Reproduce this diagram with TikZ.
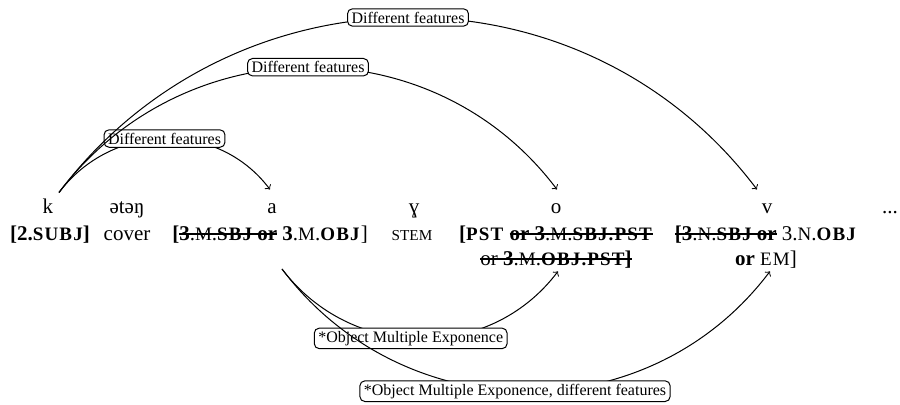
\documentclass[tikz,border=0pt]{standalone}
\usepackage{fontspec}
\setmainfont{Liberation Serif}
\usetikzlibrary{arrows}
\newcommand{\smc}[1]{{\fontsize{9.5}{10}\selectfont\addfontfeature{LetterSpace=6}#1}}
\newcommand{\smcs}[1]{{\fontsize{7.6}{9}\selectfont #1}}
\newcommand{\strk}[1]{\setbox0\hbox{#1}\rlap{\rule[0.3em]{\wd0}{0.75pt}}\box0\relax}

\begin{document}
\begin{tikzpicture}[>=to, x=0.5pt, y=0.5pt, line width=0.5pt,
    word/.style={anchor=base, inner sep=1pt, text height=8pt, text depth=2pt, font=\fontsize{10.5}{12.5}\selectfont},
    gloss/.style={anchor=base, inner sep=0pt, align=center, font=\fontsize{10.5}{12.5}\selectfont},
    deplabel/.style={draw, fill=white, rounded corners=2.5pt, inner xsep=2pt, inner ysep=1.5pt, font=\fontsize{8}{9.6}\selectfont}]

      % white space round the sentence
      \useasboundingbox (0, 0) rectangle (900, 405);

      % words
      \node [word, name=wk] at (48, 191) {k};
      \node [word, name=weteng] at (127, 191) {ətəŋ};
      \node [word, name=wa] at (272, 191) {a};
      \node [word, name=wgh] at (414, 191) {ɣ};
      \node [word, name=wo] at (556, 191) {o};
      \node [word, name=wv] at (767, 191) {v};
      \node [word, name=wdots] at (890, 191) {...};

      % glosses (two-line ones sit on their last line)
      \node [gloss, name=gk] at (50, 164) {\textbf{[2.\smc{SUBJ}]}};
      \node [gloss, name=geteng] at (127, 164) {cover};
      \node [gloss, name=ga] at (270, 164) {\textbf{[}\strk{\textbf{3}.\smc{M}.\textbf{\smc{SBJ} or}} \textbf{3}.\smc{M}.\textbf{\smc{OBJ}}]};
      \node [gloss, name=ggh] at (412, 164) {\smcs{STEM}};
      \node [gloss, name=go] at (556, 139) {\textbf{[\smc{PST}} \strk{\textbf{or 3}.\smc{M}.\textbf{\smc{SBJ.PST}}}\\
        \strk{or \textbf{3}.\smc{M}.\textbf{\smc{OBJ.PST}]}}};
      \node [gloss, name=gv] at (766, 139) {\strk{\textbf{[3}.\smc{N}.\textbf{\smc{SBJ} or}} 3.\smc{N}.\textbf{\smc{OBJ}}\\
        \textbf{or} \smc{EM}]};

      % edges above
      \draw [->] ([xshift=5.5pt, yshift=1.5pt]wk.north) to [out=53, in=127, looseness=1.06] node [deplabel] {Different features} ([xshift=-1pt, yshift=3pt]wa.north);
      \draw [->] ([xshift=5.5pt, yshift=1.5pt]wk.north) to [out=53, in=127, looseness=1.06] node [deplabel] {Different features} ([xshift=0.5pt, yshift=3pt]wo.north);
      \draw [->] ([xshift=5.5pt, yshift=1.5pt]wk.north) to [out=53, in=127, looseness=1.06] node [deplabel] {Different features} ([xshift=-5pt, yshift=3pt]wv.north);

      % edges below
      \draw [->] ([xshift=6pt, yshift=-14pt]ga.base) to [out=-53, in=-127, looseness=1.06] node [deplabel, pos=0.47] {*Object Multiple Exponence} ([xshift=1pt, yshift=-1pt]go.south);
      \draw [->] ([xshift=6pt, yshift=-14pt]ga.base) to [out=-53, in=-127, looseness=1.06] node [deplabel, pos=0.48] {*Object Multiple Exponence, different features} ([xshift=2pt, yshift=-1pt]gv.south);

\end{tikzpicture}
\end{document}
